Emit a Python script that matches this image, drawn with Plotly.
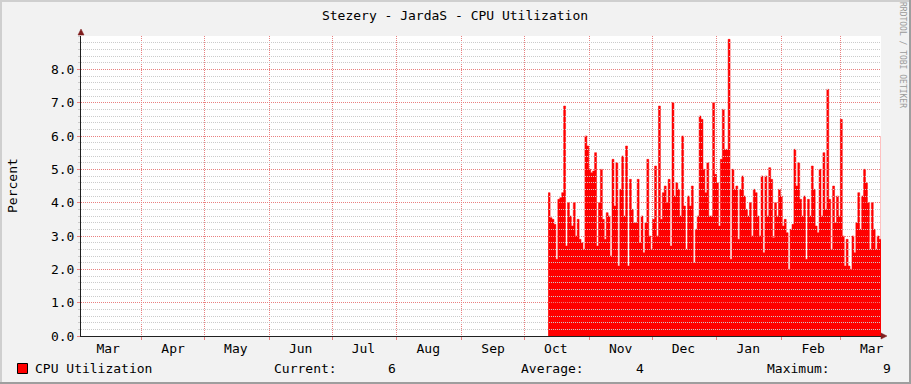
import numpy as np
import pandas as pd
import plotly.graph_objects as go

# ---------------- data ----------------
title_text = "Stezery - JardaS - CPU Utilization"
y_label = "Percent"
series_name = "CPU Utilization"
watermark = "RRDTOOL / TOBI OETIKER"

x_range = ["2022-03-03 00:00", "2023-03-20 11:00"]
data_start = "2022-10-12 08:00"
data_end = "2023-03-20 11:00"

month_labels = ["Mar", "Apr", "May", "Jun", "Jul", "Aug", "Sep",
                "Oct", "Nov", "Dec", "Jan", "Feb", "Mar"]
month_label_dates = ["2022-03-16", "2022-04-16", "2022-05-16", "2022-06-16",
                     "2022-07-16", "2022-08-16", "2022-09-16", "2022-10-16",
                     "2022-11-16", "2022-12-16", "2023-01-16", "2023-02-16",
                     "2023-03-16"]

y_tick_vals = [0, 1, 2, 3, 4, 5, 6, 7, 8]
y_tick_text = ["0.0", "1.0", "2.0", "3.0", "4.0", "5.0", "6.0", "7.0", "8.0"]

cpu_oct_nov = [4.3, 3.55, 3.5, 3.35, 2.3, 4.1, 4.15, 4.3, 6.9, 2.7, 4.0, 3.6, 3.3,
               4.0, 3.0, 3.5, 2.9, 2.8, 2.6, 6.0, 5.7, 5.0, 4.9, 4.95, 5.5, 2.7,
               4.0, 5.0, 3.5, 2.9, 3.7, 3.6, 2.4, 5.3, 3.9, 5.2, 2.1, 4.4, 5.4,
               3.6, 5.7, 2.1, 4.7]
cpu_nov_dec = [3.8, 3.4, 3.4, 4.7, 2.8, 3.6, 2.5, 3.4, 5.3, 3.0, 2.6, 3.5, 5.1,
               3.0, 6.9, 3.5, 4.3, 4.5, 4.0, 4.7, 2.7, 7.0, 4.2, 4.6, 4.4, 3.6,
               6.0, 3.9, 2.6, 4.2, 3.9, 4.5, 2.2, 3.2, 3.6, 6.6, 6.5, 5.0, 4.3,
               5.2, 3.6, 3.6, 7.0]
cpu_dec_feb = [4.85, 4.6, 3.3, 5.3, 6.8, 5.6, 5.6, 8.9, 2.3, 5.0, 4.4, 4.5, 2.9,
               4.4, 4.8, 4.2, 3.8, 3.6, 4.0, 3.0, 4.4, 4.3, 3.6, 3.0, 4.8, 2.5,
               4.8, 3.6, 5.05, 4.7, 2.95, 4.0, 3.6, 4.4, 4.2, 3.3, 3.5, 3.1, 2.0,
               3.2, 3.35, 5.6, 4.5]
cpu_feb_mar = [5.2, 4.1, 3.6, 4.2, 2.3, 4.1, 3.6, 5.1, 4.4, 3.3, 3.1, 5.0, 3.6,
               5.5, 3.8, 7.4, 4.1, 2.6, 4.5, 3.4, 4.2, 3.6, 6.5, 3.0, 2.1, 2.9,
               2.1, 2.0, 3.0, 2.5, 3.4, 4.3, 3.2, 4.2, 5.0, 4.6, 4.0, 2.6, 4.0,
               3.2, 2.6, 3.0, 2.9, 6.0]

stat_current = "6"
stat_average = "4"
stat_maximum = "9"

# ---------------- figure ----------------
W, H = 911, 384
L, R, T, B = 81, 30, 36, 48
PW, PH = W - L - R, H - T - B

def px(p):
    return (p - L) / PW

def py(p):
    return (H - B - p) / PH

FONT = "DejaVu Sans Mono"
BG = "#F2F2F2"
GRID = "#CBCBCB"
MGRID = "#E98080"
AXIS = "#1F1F1F"
ARROW = "#801F1F"

values = cpu_oct_nov + cpu_nov_dec + cpu_dec_feb + cpu_feb_mar
dates = pd.date_range(data_start, data_end, periods=len(values))

fig = go.Figure()
fig.add_trace(go.Scatter(
    x=dates, y=values, mode="lines",
    line=dict(color="#FF0000", width=0.5, shape="hv"),
    fill="tozeroy", fillcolor="#FF0000",
    showlegend=False, hoverinfo="skip",
))

shapes = []
# horizontal grid on top of data (rrdtool style)
for v in np.arange(1, 45):
    val = v * 0.2
    if v % 5 == 0:
        continue
    shapes.append(dict(type="line", xref="paper", x0=0, x1=1, yref="y", y0=val, y1=val,
                       line=dict(color=GRID, width=1, dash="1px,1px"), layer="above"))
for val in y_tick_vals[1:]:
    shapes.append(dict(type="line", xref="paper", x0=0, x1=1, yref="y", y0=val, y1=val,
                       line=dict(color=MGRID, width=1, dash="1px,1px"), layer="above"))

# arrows
shapes.append(dict(type="path", xref="paper", yref="paper",
                   path=f"M {px(78)},{py(35)} L {px(84)},{py(35)} L {px(81)},{py(29)} Z",
                   fillcolor=ARROW, line=dict(color=ARROW, width=0.5), layer="above"))
shapes.append(dict(type="path", xref="paper", yref="paper",
                   path=f"M {px(881)},{py(333)} L {px(881)},{py(339)} L {px(887)},{py(336)} Z",
                   fillcolor=ARROW, line=dict(color=ARROW, width=0.5), layer="above"))

# legend box
shapes.append(dict(type="rect", xref="paper", yref="paper",
                   x0=px(17.5), x1=px(27.5), y0=py(363.5), y1=py(373.5),
                   fillcolor="#FF0000", line=dict(color="#000000", width=1)))

# frame shading
shapes.append(dict(type="line", xref="paper", yref="paper", x0=px(0), x1=px(W), y0=py(1), y1=py(1),
                   line=dict(color="#CFCFCF", width=2)))
shapes.append(dict(type="line", xref="paper", yref="paper", x0=px(1), x1=px(1), y0=py(0), y1=py(H),
                   line=dict(color="#CFCFCF", width=2)))
shapes.append(dict(type="line", xref="paper", yref="paper", x0=px(0), x1=px(W), y0=py(H - 1), y1=py(H - 1),
                   line=dict(color="#9E9E9E", width=2)))
shapes.append(dict(type="line", xref="paper", yref="paper", x0=px(W - 1), x1=px(W - 1), y0=py(0), y1=py(H),
                   line=dict(color="#9E9E9E", width=2)))

ann = []
def text(x, y, s, anchor="left", size=13, color="#000000", angle=0):
    ann.append(dict(x=px(x), y=py(y), xref="paper", yref="paper", text=s, showarrow=False,
                    xanchor=anchor, yanchor="middle", textangle=angle,
                    font=dict(family=FONT, size=size, color=color)))

text(12, 186, y_label, anchor="center", angle=-90)
text(33, 368, series_name)
text(272, 368, "Current:")
text(398, 368, stat_current, anchor="right")
text(519, 368, "Average:")
text(646, 368, stat_average, anchor="right")
text(765, 368, "Maximum:")
text(893, 368, stat_maximum, anchor="right")
text(903, 55, watermark, anchor="center", size=8, color="#9A9A9A", angle=90)

fig.update_layout(
    width=W, height=H,
    margin=dict(l=L, r=R, t=T, b=B, pad=0),
    paper_bgcolor=BG, plot_bgcolor="#FFFFFF",
    title=dict(text=title_text, x=455 / W, xanchor="center", y=1 - 15 / H, yanchor="middle",
               font=dict(family=FONT, size=13, color="#000000")),
    shapes=shapes, annotations=ann, showlegend=False,
    xaxis=dict(type="date", range=x_range, tickvals=month_label_dates, ticktext=month_labels,
               ticks="", showgrid=False, zeroline=False, showline=True, linecolor=AXIS, linewidth=1,
               tickfont=dict(family=FONT, size=13, color="#000000"),
               minor=dict(tick0="2022-04-01", dtick="M1", ticks="outside", ticklen=3,
                          tickcolor=MGRID, showgrid=True, gridcolor=MGRID,
                          griddash="1px,1px", gridwidth=1),
               fixedrange=True),
    yaxis=dict(range=[0, 9], tickvals=y_tick_vals, ticktext=y_tick_text,
               ticks="outside", ticklen=3, tickcolor=MGRID,
               showgrid=False, zeroline=False, showline=True, linecolor=AXIS, linewidth=1,
               tickfont=dict(family=FONT, size=13, color="#000000"),
               minor=dict(tick0=0, dtick=0.2, ticks="outside", ticklen=2,
                          tickcolor=GRID, showgrid=False),
               fixedrange=True),
)

post = (
    "document.body.style.margin='0';"
    "document.body.style.overflow='hidden';"
    "document.querySelectorAll('.shapelayer path').forEach(function(p){"
    "if(p.style.strokeDasharray){p.style.shapeRendering='crispEdges';}});"
)
fig.write_html("out.html", config={"displayModeBar": False, "staticPlot": True},
               post_script=post)
